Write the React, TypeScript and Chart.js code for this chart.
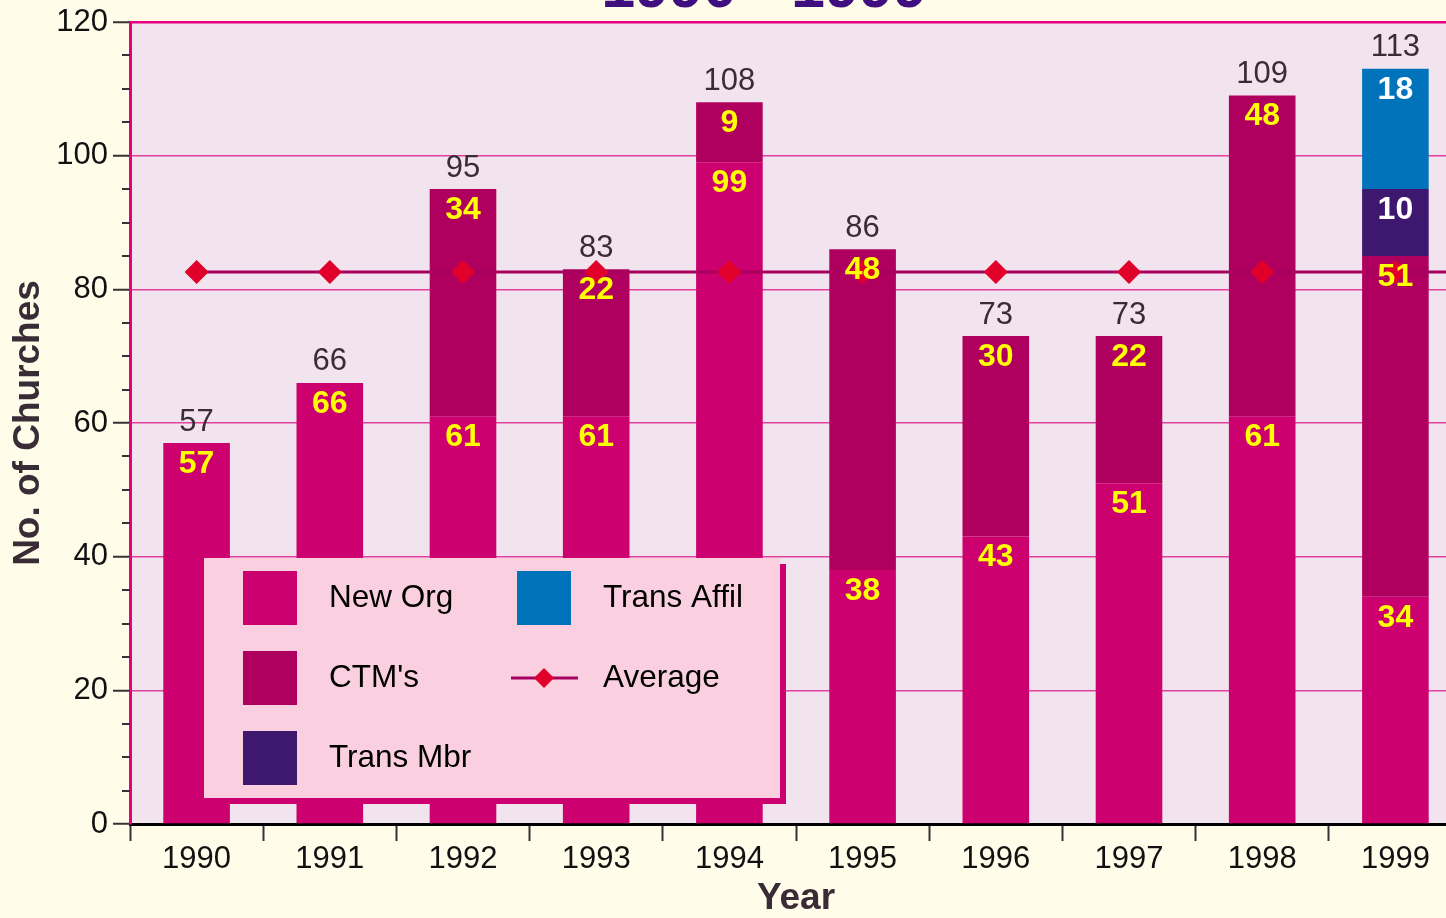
import React, { useEffect, useRef } from 'react';
import { Chart, registerables } from 'chart.js';

Chart.register(...registerables);

// ---------- data ----------
const years = ['1990', '1991', '1992', '1993', '1994', '1995', '1996', '1997', '1998', '1999'];
const newOrg = [57, 66, 61, 61, 99, 38, 43, 51, 61, 34];
const ctms = [null, null, 34, 22, 9, 48, 30, 22, 48, 51];
const transMbr = [null, null, null, null, null, null, null, null, null, 10];
const transAffil = [null, null, null, null, null, null, null, null, null, 18];
const averageValue = 82.6;
const averageSeries = years.map(() => averageValue);
const yTicks = [0, 20, 40, 60, 80, 100, 120];
const titleText = '1990 - 1999';
const yTitle = 'No. of Churches';
const xTitle = 'Year';

// ---------- style ----------
const FONT = '"Liberation Sans", Arial, Helvetica, sans-serif';
const OFFSET_Y = 60;
const CANVAS_W = 1474;
const CANVAS_H = 985;
const CREAM = '#FFFCE9';
const PLOT_BG = '#F1E4EE';
const PINK_BORDER = '#E6007E';
const PINK_GRID = '#E2409C';
const C_NEW = '#CC006E';
const C_CTM = '#B0005F';
const C_MBR = '#3E176F';
const C_AFF = '#0073BB';
const C_AVG_LINE = '#A8005E';
const C_AVG_PT = '#E0002A';
const DARK = '#3A2C37';

const totals = years.map((_, i) =>
  [newOrg, ctms, transMbr, transAffil].reduce((s, arr) => s + (arr[i] ?? 0), 0)
);

const bgPlugin = {
  id: 'bg',
  beforeDraw(chart: any) {
    const { ctx, chartArea: a } = chart;
    ctx.save();
    ctx.fillStyle = CREAM;
    ctx.fillRect(0, 0, chart.width, chart.height);
    ctx.fillStyle = PLOT_BG;
    ctx.fillRect(a.left, a.top, a.right - a.left, a.bottom - a.top);
    ctx.restore();
  },
};

// extends the average line from the last point to the right edge of the plot
const avgExtendPlugin = {
  id: 'avgExtend',
  beforeDatasetDraw(chart: any, args: any) {
    if (args.index !== 4) return;
    const meta = chart.getDatasetMeta(4);
    const last = meta.data[meta.data.length - 1];
    const { ctx, chartArea: a } = chart;
    ctx.save();
    ctx.strokeStyle = C_AVG_LINE;
    ctx.lineWidth = 3;
    ctx.beginPath();
    ctx.moveTo(last.x, last.y);
    ctx.lineTo(a.right, last.y);
    ctx.stroke();
    ctx.restore();
  },
};

const labelsPlugin = {
  id: 'labels',
  afterDatasetsDraw(chart: any) {
    const { ctx } = chart;
    const y = chart.scales.y;
    ctx.save();
    ctx.textAlign = 'center';
    ctx.textBaseline = 'middle';
    ctx.font = `bold 32px ${FONT}`;
    for (let d = 0; d < 4; d++) {
      const meta = chart.getDatasetMeta(d);
      const vals = chart.data.datasets[d].data;
      ctx.fillStyle = d < 2 ? '#FFFF00' : '#FFFFFF';
      meta.data.forEach((el: any, i: number) => {
        const v = vals[i];
        if (v == null) return;
        ctx.fillText(String(v), el.x, el.y + 21);
      });
    }
    ctx.font = `31px ${FONT}`;
    ctx.fillStyle = DARK;
    const meta0 = chart.getDatasetMeta(0);
    totals.forEach((t, i) => {
      const el = meta0.data[i];
      ctx.fillText(String(t), el.x, y.getPixelForValue(t) - 21);
    });
    ctx.restore();
  },
};

const decorPlugin = {
  id: 'decor',
  afterDraw(chart: any) {
    const { ctx, chartArea: a } = chart;
    const y = chart.scales.y;
    ctx.save();
    // minor y ticks
    ctx.strokeStyle = '#333';
    ctx.lineWidth = 2;
    for (let v = 5; v < 120; v += 5) {
      if (v % 20 === 0) continue;
      const py = Math.round(y.getPixelForValue(v));
      ctx.beginPath();
      ctx.moveTo(a.left - 8, py);
      ctx.lineTo(a.left, py);
      ctx.stroke();
    }
    // title (mostly above the visible page)
    ctx.fillStyle = '#3F0F80';
    ctx.font = `bold 61px ${FONT}`;
    ctx.textAlign = 'center';
    ctx.textBaseline = 'alphabetic';
    ctx.fillText(titleText, 764, OFFSET_Y + 7);

    // legend
    const L = a.left + 74;
    const T = a.top + 536;
    const W = 576;
    const H = 240;
    ctx.fillStyle = C_NEW;
    ctx.fillRect(L + 6, T + 6, W, H);
    ctx.fillStyle = '#FAD0E0';
    ctx.fillRect(L, T, W, H);
    const ds = chart.data.datasets;
    const items = [
      { col: 0, row: 0, d: ds[0] },
      { col: 0, row: 1, d: ds[1] },
      { col: 0, row: 2, d: ds[2] },
      { col: 1, row: 0, d: ds[3] },
      { col: 1, row: 1, d: ds[4] },
    ];
    ctx.font = `31.5px ${FONT}`;
    ctx.textAlign = 'left';
    ctx.textBaseline = 'middle';
    items.forEach(({ col, row, d }) => {
      const sx = L + (col === 0 ? 39 : 313);
      const sy = T + 13 + row * 80;
      const cy = sy + 27;
      if (d.type === 'line') {
        ctx.strokeStyle = d.borderColor;
        ctx.lineWidth = 3;
        ctx.beginPath();
        ctx.moveTo(sx - 6, cy);
        ctx.lineTo(sx + 61, cy);
        ctx.stroke();
        ctx.fillStyle = d.pointBackgroundColor;
        ctx.beginPath();
        const cx = sx + 27;
        ctx.moveTo(cx - 10, cy);
        ctx.lineTo(cx, cy - 10);
        ctx.lineTo(cx + 10, cy);
        ctx.lineTo(cx, cy + 10);
        ctx.closePath();
        ctx.fill();
      } else {
        ctx.fillStyle = d.backgroundColor;
        ctx.fillRect(sx, sy, 54, 54);
      }
      ctx.fillStyle = '#000';
      ctx.fillText(d.label, L + (col === 0 ? 125 : 399), cy);
    });
    ctx.restore();
  },
};

export default function App() {
  const ref = useRef<HTMLCanvasElement | null>(null);
  useEffect(() => {
    if (!ref.current) return;
    const chart = new Chart(ref.current, {
      type: 'bar',
      data: {
        labels: years,
        datasets: [
          { label: 'New Org', data: newOrg, backgroundColor: C_NEW, order: 1 },
          { label: "CTM's", data: ctms, backgroundColor: C_CTM, order: 1 },
          { label: 'Trans Mbr', data: transMbr, backgroundColor: C_MBR, order: 1 },
          { label: 'Trans Affil', data: transAffil, backgroundColor: C_AFF, order: 1 },
          {
            type: 'line',
            label: 'Average',
            data: averageSeries,
            stack: 'avg',
            order: 0,
            borderColor: C_AVG_LINE,
            borderWidth: 3,
            pointStyle: 'rectRot',
            pointRadius: 12,
            pointBackgroundColor: C_AVG_PT,
            pointBorderWidth: 0,
            pointBorderColor: C_AVG_PT,
            fill: false,
            tension: 0,
          },
        ] as any,
      },
      options: {
        responsive: false,
        animation: false,
        devicePixelRatio: 1,
        layout: { padding: { top: 82, right: 10, left: 0, bottom: 0 } },
        datasets: { bar: { categoryPercentage: 1, barPercentage: 0.5 } },
        plugins: { legend: { display: false }, tooltip: { enabled: false } },
        scales: {
          x: {
            type: 'category',
            stacked: true,
            offset: true,
            grid: {
              offset: true,
              drawOnChartArea: false,
              drawTicks: true,
              tickLength: 17,
              tickColor: '#333',
              tickWidth: 2,
              color: '#333',
            },
            border: { display: true, color: '#000', width: 3 },
            ticks: { color: '#111', font: { family: FONT, size: 31 }, padding: 0, maxRotation: 0, autoSkip: false },
            title: {
              display: true,
              text: xTitle,
              color: DARK,
              font: { family: FONT, size: 37, weight: 'bold' },
              padding: { top: 0, bottom: 3.8 },
            },
            afterFit: (s: any) => {
              s.height = 101;
            },
          },
          y: {
            stacked: true,
            min: 0,
            max: 120,
            afterBuildTicks: (s: any) => {
              s.ticks = yTicks.map((v) => ({ value: v }));
            },
            grid: {
              color: (c: any) =>
                c.tick && c.tick.value === 120 ? PINK_BORDER : c.tick && c.tick.value === 0 ? 'rgba(0,0,0,0)' : PINK_GRID,
              lineWidth: (c: any) => (c.tick && c.tick.value === 120 ? 2.5 : 1.5),
              drawTicks: true,
              tickLength: 17,
              tickColor: '#333',
              tickWidth: 2,
            },
            border: { display: true, color: PINK_BORDER, width: 3 },
            ticks: { color: '#111', font: { family: FONT, size: 31 }, padding: 5 },
            title: {
              display: true,
              text: yTitle,
              color: DARK,
              font: { family: FONT, size: 37, weight: 'bold' },
              padding: { top: 6.3, bottom: 0 },
            },
            afterFit: (s: any) => {
              s.width = 130;
            },
          },
        },
      } as any,
      plugins: [bgPlugin, avgExtendPlugin, labelsPlugin, decorPlugin],
    });
    return () => chart.destroy();
  }, []);

  return (
    <div
      style={{
        position: 'fixed',
        left: 0,
        top: 0,
        width: 1446,
        height: 918,
        overflow: 'hidden',
        background: CREAM,
      }}
    >
      <canvas
        ref={ref}
        width={CANVAS_W}
        height={CANVAS_H}
        style={{ position: 'absolute', left: 0, top: -OFFSET_Y, width: CANVAS_W, height: CANVAS_H }}
      />
    </div>
  );
}
